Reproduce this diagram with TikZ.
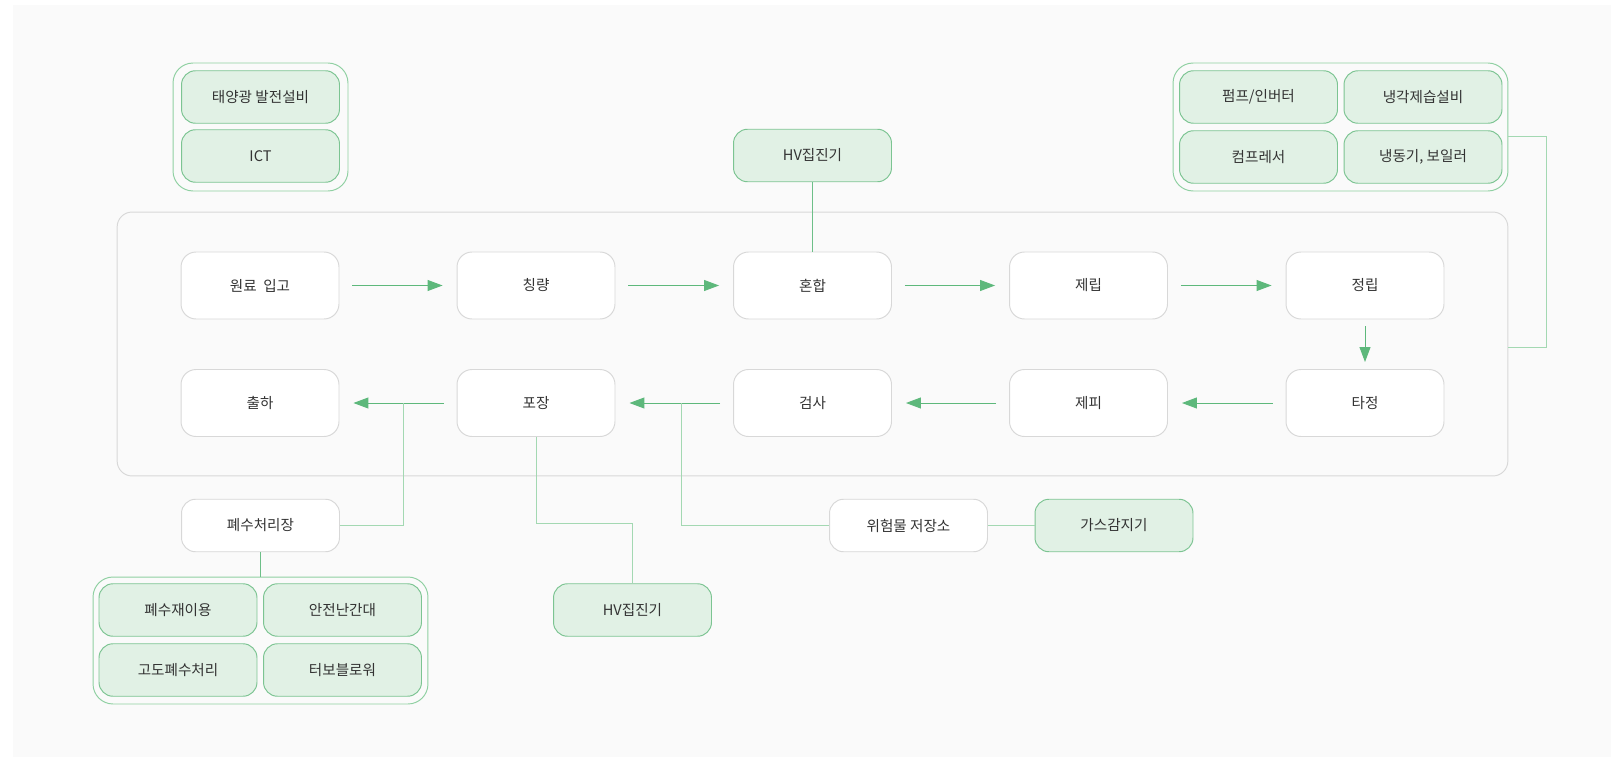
\documentclass[tikz,border=0pt]{standalone}
\usepackage{fontspec}
\setmainfont{Noto Sans CJK KR}
\usetikzlibrary{arrows.meta}
\definecolor{bgc}{HTML}{FAFAFA}
\definecolor{boxline}{HTML}{D8D8D8}
\definecolor{eqfill}{HTML}{E1F1E5}
\definecolor{eqline}{HTML}{7CC492}
\definecolor{grpline}{HTML}{8FD0A2}
\definecolor{arrowc}{HTML}{5DB87B}
\definecolor{branchc}{HTML}{A3D8B2}
\definecolor{txt}{HTML}{333333}

\begin{document}
\begin{tikzpicture}[x=0.02cm,y=-0.02cm,line width=0.55pt,
  font=\fontsize{8.3pt}{10pt}\selectfont,text=txt,
  proc/.style={draw=boxline,fill=white,rounded corners=0.3cm,minimum width=3.16cm,minimum height=1.34cm},
  small/.style={draw=boxline,fill=white,rounded corners=0.28cm,minimum width=3.16cm,minimum height=1.05cm},
  equip/.style={draw=eqline,fill=eqfill,rounded corners=0.28cm,minimum width=3.16cm,minimum height=1.05cm},
  grp/.style={draw=grpline,fill=bgc,rounded corners=0.4cm},
  flow/.style={draw=arrowc,-{Triangle[length=0.3cm,width=0.22cm]},shorten <=0.26cm,shorten >=0.28cm},
  attach/.style={draw=arrowc!90!white},
  branch/.style={draw=branchc}]
\useasboundingbox (0,0) rectangle (1620,757);
\fill [bgc] (13,5) rectangle (1611,757);

\node [draw=boxline,fill=bgc,rounded corners=0.3cm,minimum width=27.82cm,minimum height=5.28cm] (line) at (812.5,344) {};

\node [grp,minimum width=3.5cm,minimum height=2.56cm] (lgrp) at (260.5,127) {};
\node [equip] (solar) at (260.5,97) {태양광 발전설비};
\node [equip] (ict) at (260.5,156) {ICT};

\node [grp,minimum width=6.7cm,minimum height=2.56cm] (rgrp) at (1340.5,127) {};
\node [equip] (pump) at (1258.5,97) {펌프/인버터};
\node [equip] (cool) at (1423,97) {냉각제습설비};
\node [equip] (comp) at (1258.5,157) {컴프레서};
\node [equip] (boiler) at (1423,157) {냉동기, 보일러};

\node [equip] (hvtop) at (812.5,155.5) {HV집진기};

\node [proc] (wonryo) at (260,285.5) {원료\ \ 입고};
\node [proc] (chingryang) at (536,285.5) {칭량};
\node [proc] (honhap) at (812.5,285.5) {혼합};
\node [proc] (jerip) at (1088.5,285.5) {제립};
\node [proc] (jeongrip) at (1365,285.5) {정립};
\node [proc] (tajeong) at (1365,403) {타정};
\node [proc] (jepi) at (1088.5,403) {제피};
\node [proc] (geomsa) at (812.5,403) {검사};
\node [proc] (pojang) at (536,403) {포장};
\node [proc] (chulha) at (260,403) {출하};

\draw [flow] (wonryo) -- (chingryang);
\draw [flow] (chingryang) -- (honhap);
\draw [flow] (honhap) -- (jerip);
\draw [flow] (jerip) -- (jeongrip);
\draw [flow,shorten <=0.14cm,shorten >=0.14cm] (jeongrip) -- (tajeong);
\draw [flow] (tajeong) -- (jepi);
\draw [flow] (jepi) -- (geomsa);
\draw [flow] (geomsa) -- (pojang);
\draw [flow] (pojang) -- (chulha);

\node [small] (pyesu) at (260.5,525.5) {폐수처리장};
\node [grp,minimum width=6.7cm,minimum height=2.54cm] (bgrp) at (260.5,640.5) {};
\node [equip] (reuse) at (178,610) {폐수재이용};
\node [equip] (rail) at (342.5,610) {안전난간대};
\node [equip] (advanced) at (178,670) {고도폐수처리};
\node [equip] (blower) at (342.5,670) {터보블로워};

\node [equip] (hvbot) at (632.5,610) {HV집진기};
\node [small] (wiheom) at (908.5,525.5) {위험물 저장소};
\node [equip] (gas) at (1114,525.5) {가스감지기};

\coordinate (j1) at (403,403);
\coordinate (j2) at (681,403);

\draw [attach] (hvtop) -- (honhap);
\draw [branch] ([yshift=-0.18cm]rgrp.east) -- ++(38,0) |- ([yshift=-0.06cm]line.east);
\draw [branch] (pyesu.east) -| (j1);
\draw [attach] (pyesu) -- (bgrp);
\draw [branch] (pojang.south) -- ++(0,87) -| (hvbot.north);
\draw [branch] (wiheom.west) -| (j2);
\draw [branch] (wiheom) -- (gas);
\end{tikzpicture}
\end{document}
